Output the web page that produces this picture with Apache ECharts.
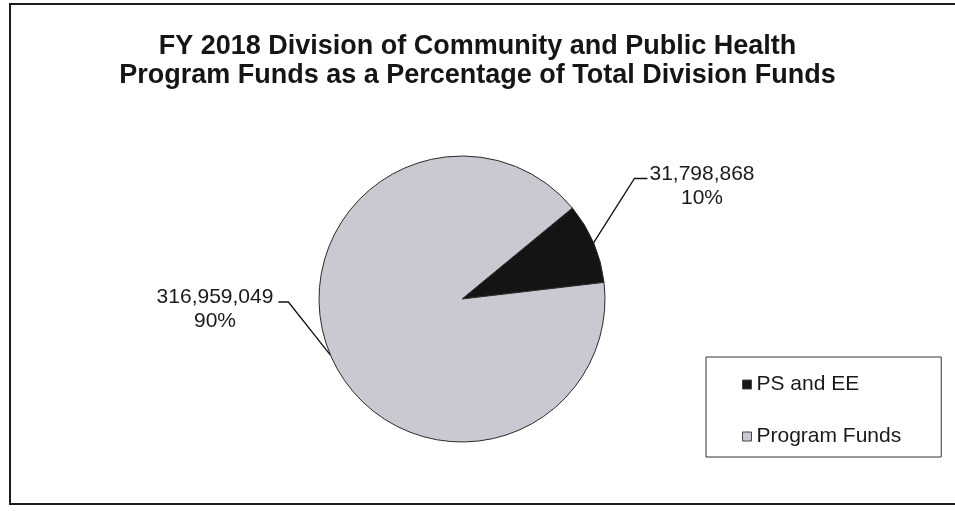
<!DOCTYPE html>
<html>
<head>
<meta charset="utf-8">
<title>FY 2018 Division of Community and Public Health</title>
<script src="https://cdn.jsdelivr.net/npm/echarts@6/dist/echarts.min.js"></script>
<style>
  html, body { margin: 0; padding: 0; background: #ffffff; }
  #chart { width: 955px; height: 511px; }
</style>
</head>
<body>
<div id="chart"></div>
<script>
// Division funds split into personal services / expense & equipment and program funds
const categories = ['PS and EE', 'Program Funds'];
const amounts = [31798868, 316959049];
const shareLabels = ['10%', '90%'];
const sliceColors = ['#141414', '#c9c9d1'];

const titleLines = [
  'FY 2018 Division of Community and Public Health',
  'Program Funds as a Percentage of Total Division Funds'
];

const fmt = n => n.toLocaleString('en-US');
const FONT = 'Liberation Sans, Arial, sans-serif';

// label placement (label block centre) for each slice, and on which side the leader arrives
const labelSpots = [
  { x: 702, y: 186, side: 'left' },
  { x: 215, y: 309.5, side: 'right' }
];

const chart = echarts.init(document.getElementById('chart'), null, { renderer: 'canvas' });

chart.setOption({
  backgroundColor: '#ffffff',
  animation: false,
  title: {
    text: titleLines.join('\n'),
    left: 'center',
    top: 27,
    textStyle: {
      fontFamily: FONT,
      fontWeight: 'bold',
      fontSize: 27,
      lineHeight: 29,
      color: '#151515'
    }
  },
  legend: {
    orient: 'vertical',
    left: 706,
    top: 357,
    data: categories,
    icon: 'rect',
    itemWidth: 9,
    itemHeight: 9,
    itemGap: 31,
    padding: [17, 40, 10, 36],
    borderColor: '#333',
    borderWidth: 1,
    backgroundColor: '#ffffff',
    textStyle: {
      fontFamily: FONT,
      fontSize: 21,
      color: '#1a1a1a'
    },
    itemStyle: { borderColor: '#444', borderWidth: 1 }
  },
  graphic: [{
    type: 'rect',
    silent: true,
    shape: { x: 10, y: 4, width: 960, height: 500 },
    style: { fill: null, stroke: '#1c1c1c', lineWidth: 2 },
    z: -1
  }],
  series: [{
    type: 'pie',
    center: [462, 299],
    radius: 143,
    startAngle: 39.5,
    clockwise: true,
    avoidLabelOverlap: false,
    itemStyle: { borderColor: '#2a2a2a', borderWidth: 1 },
    data: categories.map((name, i) => ({
      name: name,
      value: amounts[i],
      itemStyle: { color: sliceColors[i] }
    })),
    label: {
      show: true,
      formatter: p => fmt(p.value) + '\n' + shareLabels[p.dataIndex],
      fontFamily: FONT,
      fontSize: 21,
      lineHeight: 24,
      color: '#1a1a1a',
      align: 'center'
    },
    labelLine: {
      show: true,
      lineStyle: { color: '#111', width: 1.3 }
    },
    labelLayout: function (params) {
      const spot = labelSpots[params.dataIndex];
      const w = params.labelRect.width;
      const anchor = params.labelLinePoints ? params.labelLinePoints[0] : [spot.x, spot.y];
      const lineY = spot.y - 24 + 16.5;
      let elbow, end;
      if (spot.side === 'left') {
        end = [spot.x - w / 2 - 2, lineY];
        elbow = [end[0] - 13, lineY];
      } else {
        end = [spot.x + w / 2 + 5, lineY];
        elbow = [end[0] + 10, lineY];
      }
      return {
        x: spot.x,
        y: spot.y,
        align: 'center',
        verticalAlign: 'middle',
        labelLinePoints: [anchor, elbow, end]
      };
    }
  }]
});
</script>
</body>
</html>
